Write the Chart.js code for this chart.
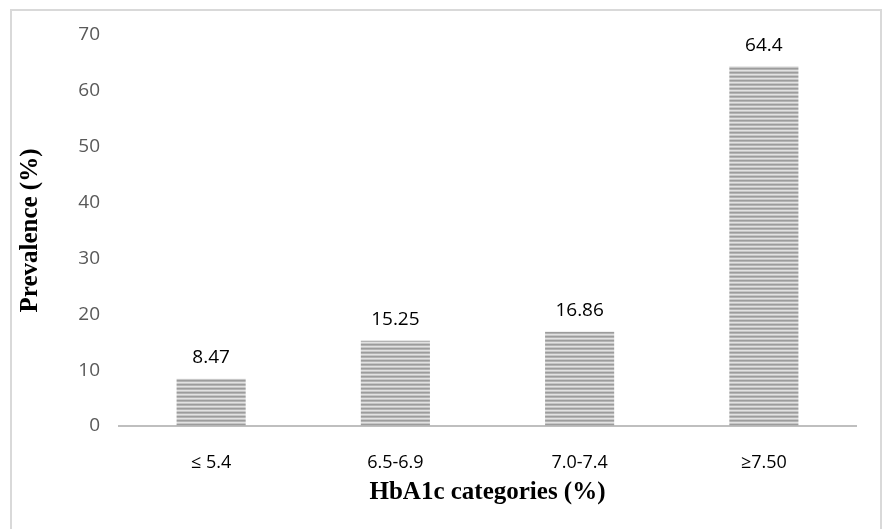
<!DOCTYPE html>
<html>
<head>
<meta charset="utf-8">
<script src="https://cdn.jsdelivr.net/npm/chart.js@4"></script>
<style>
  html, body { margin: 0; padding: 0; background: #fff; }
  #wrap { position: relative; width: 882px; height: 529px; overflow: hidden; }
  #frame { position: absolute; left: 10px; top: 9px; width: 868px; height: 540px; border: 2px solid #d9d9d9; }
  canvas { position: absolute; left: 0; top: 0; }
</style>
</head>
<body>
<div id="wrap">
  <div id="frame"></div>
  <canvas id="myChart" width="882" height="529"></canvas>
</div>
<script>
// HbA1c categories and prevalence values
const categories = ['≤ 5.4', '6.5-6.9', '7.0-7.4', '≥7.50']
const prevalence = [8.47, 15.25, 16.86, 64.4]
const yTicks = [0, 10, 20, 30, 40, 50, 60, 70]

// horizontal stripe fill like the original
function stripes() {
  const c = document.createElement('canvas')
  c.width = 4
  c.height = 4
  const g = c.getContext('2d')
  const rows = ['#9c9c9c', '#b4b4b4', '#e2e2e2', '#c6c6c6']
  rows.forEach((col, i) => {
    g.fillStyle = col
    g.fillRect(0, i, 4, 1)
  })
  return g.createPattern(c, 'repeat')
}

const valueLabels = {
  id: 'valueLabels',
  afterDatasetsDraw(chart) {
    const ctx = chart.ctx
    const meta = chart.getDatasetMeta(0)
    ctx.save()
    ctx.font = '19px "Open Sans"'
    ctx.fillStyle = '#000'
    ctx.textAlign = 'center'
    ctx.textBaseline = 'middle'
    meta.data.forEach((bar, i) => {
      ctx.fillText(String(prevalence[i]), bar.x, bar.y - 21)
    })
    ctx.restore()
  }
}

const ctx = document.getElementById('myChart')
const myChart = new Chart(ctx, {
  type: 'bar',
  data: {
    labels: categories,
    datasets: [{
      data: prevalence,
      backgroundColor: stripes(),
      borderWidth: 0,
      categoryPercentage: 1,
      barPercentage: 0.375
    }]
  },
  options: {
    responsive: false,
    animation: false,
    layout: { padding: { left: 12, right: 26, top: 35, bottom: 17 } },
    plugins: {
      legend: { display: false },
      tooltip: { enabled: false }
    },
    scales: {
      x: {
        grid: { display: false, drawTicks: false },
        border: { display: true, color: '#bfbfbf', width: 2 },
        ticks: { color: '#000', font: { family: 'Open Sans', size: 18 }, padding: 26 },
        title: {
          display: true,
          text: 'HbA1c categories (%)',
          color: '#000',
          font: { family: 'Liberation Serif', size: 25, weight: 'bold' }
        },
        afterFit(scale) { scale.height = 86 }
      },
      y: {
        min: 0,
        max: 70,
        grid: { display: false, drawTicks: false },
        border: { display: false },
        afterBuildTicks(scale) { scale.ticks = yTicks.map(v => ({ value: v })) },
        ticks: { color: '#595959', font: { family: 'Open Sans', size: 19 }, padding: 19 },
        title: {
          display: true,
          text: 'Prevalence (%)',
          color: '#000',
          font: { family: 'Liberation Serif', size: 25, weight: 'bold' }
        },
        afterFit(scale) { scale.width = 107 }
      }
    }
  },
  plugins: [valueLabels]
})
</script>
</body>
</html>
